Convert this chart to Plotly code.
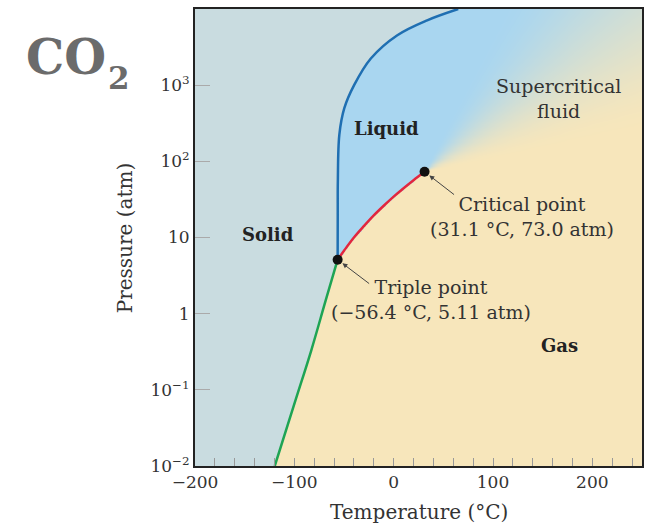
import numpy as np
import plotly.graph_objects as go

# ---- data ----
triple_T, triple_P = -56.4, 5.11
crit_T, crit_P = 31.1, 73.0

# sublimation curve (solid/gas)
sub_T = [-119.7, -98.8, -83.0, -68.5, -56.4]
sub_P = [0.01, 0.073, 0.328, 1.48, 5.11]
# vaporization curve (liquid/gas)
vap_T = [-56.4, -50.0, -40.0, -30.0, -20.0, -10.0, 0.0, 10.0, 20.0, 31.1]
vap_P = [5.11, 6.7, 10.0, 14.1, 19.5, 26.1, 34.4, 44.4, 56.6, 73.0]
# melting curve (solid/liquid)
melt_T = [-56.4, -56.3, -56.2, -54.7, -49.7, -39.7, -23.0, 3.7, 33.7, 65.0]
melt_P = [5.11, 20.0, 55.0, 223.0, 498.0, 1007.0, 2240.0, 4530.0, 7110.0, 10000.0]

x_tickvals = [-200, -100, 0, 100, 200]
y_tickvals = [0.01, 0.1, 1, 10, 100, 1000]
y_ticktext = ["10<sup>−2</sup>", "10<sup>−1</sup>", "1", "10", "10<sup>2</sup>", "10<sup>3</sup>"]

region_labels = ["Solid", "Liquid", "Gas", "Supercritical<br>fluid"]
region_T = [-126.3, -7.0, 167.0, 165.7]
region_P = [11.1, 270.0, 0.38, 676.0]

SOLID_C = "#c9dce0"
LIQ_C = "#a9d6f0"
GAS_C = "#f7e6bb"
FONT = "DejaVu Serif"

X_RANGE = [-200, 250]
Y_RANGE = [-2, 4]

# ---- background (liquid / gas / supercritical blend) ----
gx = np.arange(X_RANGE[0], X_RANGE[1] + 0.1, 2.0)
gly = np.arange(Y_RANGE[0], Y_RANGE[1] + 0.001, 0.015)
TT, LL = np.meshgrid(gx, gly)
px_per_deg = 447 / 450
px_per_dec = 459 / 6
dx = (TT - crit_T) * px_per_deg
dy = (LL - np.log10(crit_P)) * px_per_dec
theta = np.degrees(np.arctan2(dy, dx))
t = np.clip((65 - theta) / 55, 0, 1)
t = t * t * (3 - 2 * t)
below = (TT < crit_T) & (LL < np.log10(crit_P))
boundary = np.interp(TT, vap_T, np.log10(vap_P))
t = np.where(below, np.where(LL < boundary, 1.0, 0.0), t)
t = np.round(t, 3)

fig = go.Figure()
fig.add_trace(go.Heatmap(
    x=gx, y=10 ** gly, z=t, colorscale=[[0, LIQ_C], [1, GAS_C]],
    zmin=0, zmax=1, showscale=False, zsmooth="best", hoverinfo="skip"))

# solid region polygon
poly_T = [X_RANGE[0], X_RANGE[0]] + melt_T[::-1] + sub_T[::-1][1:]
poly_P = [10 ** Y_RANGE[0], 10 ** Y_RANGE[1]] + melt_P[::-1] + sub_P[::-1][1:]
fig.add_trace(go.Scatter(x=poly_T, y=poly_P, fill="toself", fillcolor=SOLID_C,
                         mode="lines", line=dict(width=0), hoverinfo="skip"))

# phase boundaries
fig.add_trace(go.Scatter(x=sub_T, y=sub_P, mode="lines",
                         line=dict(color="#1ea454", width=2.5, shape="spline")))
fig.add_trace(go.Scatter(x=vap_T, y=vap_P, mode="lines",
                         line=dict(color="#e2263e", width=2.5, shape="spline")))
fig.add_trace(go.Scatter(x=melt_T, y=melt_P, mode="lines",
                         line=dict(color="#1f6fb2", width=2.5, shape="spline")))
fig.add_trace(go.Scatter(x=[triple_T, crit_T], y=[triple_P, crit_P], mode="markers",
                         marker=dict(color="#111", size=10)))

annotations = []
for lab, T, P in zip(region_labels, region_T, region_P):
    bold = lab in ("Solid", "Liquid", "Gas")
    annotations.append(dict(
        x=T, y=np.log10(P), xref="x", yref="y", showarrow=False,
        text=f"<b>{lab}</b>" if bold else lab,
        font=dict(family=FONT, size=18 if bold else 19, color="#222" if bold else "#333"),
        xanchor="center", yanchor="middle"))

# point annotations
annotations.append(dict(x=129, y=1.281, xref="x", yref="y", showarrow=False,
                        text=f"Critical point<br>({crit_T:.1f} °C, {crit_P:.1f} atm)",
                        font=dict(family=FONT, size=19, color="#333"), align="center"))
annotations.append(dict(x=38, y=0.183, xref="x", yref="y", showarrow=False,
                        text=f"Triple point<br>(−{abs(triple_T):.1f} °C, {triple_P:.2f} atm)",
                        font=dict(family=FONT, size=19, color="#333"), align="center"))
annotations.append(dict(x=crit_T, y=np.log10(crit_P), xref="x", yref="y", text="",
                        showarrow=True, ax=31, ay=24, arrowhead=2, arrowsize=1,
                        arrowwidth=1, arrowcolor="#444", standoff=6))
annotations.append(dict(x=triple_T, y=np.log10(triple_P), xref="x", yref="y", text="",
                        showarrow=True, ax=33, ay=25, arrowhead=2, arrowsize=1,
                        arrowwidth=1, arrowcolor="#444", standoff=6))

# axis titles and CO2 label
annotations.append(dict(x=0.5, y=-0.1, xref="paper", yref="paper", showarrow=False,
                        text="Temperature (°C)", font=dict(family=FONT, size=20, color="#333"),
                        xanchor="center", yanchor="middle"))
annotations.append(dict(x=-0.157, y=0.5, xref="paper", yref="paper", showarrow=False,
                        text="Pressure (atm)", textangle=-90,
                        font=dict(family=FONT, size=20, color="#333"),
                        xanchor="center", yanchor="middle"))
annotations.append(dict(x=-0.383, y=0.8954, xref="paper", yref="paper", showarrow=False,
                        text="<b>CO</b>",
                        font=dict(family=FONT, size=48, color="#6b6b6b"),
                        xanchor="left", yanchor="middle"))
annotations.append(dict(x=-0.1711, y=0.8486, xref="paper", yref="paper", showarrow=False,
                        text="<b>2</b>",
                        font=dict(family=FONT, size=31, color="#6b6b6b"),
                        xanchor="center", yanchor="middle"))

fig.update_layout(
    width=659, height=526, margin=dict(l=195, r=17, t=7, b=60),
    paper_bgcolor="white", plot_bgcolor="white", showlegend=False,
    annotations=annotations,
    xaxis=dict(range=X_RANGE, tickvals=x_tickvals, ticks="inside", ticklen=8,
               tickcolor="#999", tickwidth=1, showgrid=False, zeroline=False,
               showline=True, mirror=True, linecolor="#222", linewidth=2,
               tickfont=dict(family=FONT, size=17, color="#333"),
               minor=dict(dtick=20, tick0=0, ticks="inside", ticklen=8,
                          tickcolor="#999", showgrid=False)),
    yaxis=dict(type="log", range=Y_RANGE, tickvals=y_tickvals, ticktext=y_ticktext,
               ticks="inside", ticklen=15, tickcolor="#aaa", tickwidth=1,
               showgrid=False, zeroline=False, showline=True, mirror=True,
               linecolor="#222", linewidth=2,
               tickfont=dict(family=FONT, size=17, color="#333")),
)

fig.write_html("out.html")
